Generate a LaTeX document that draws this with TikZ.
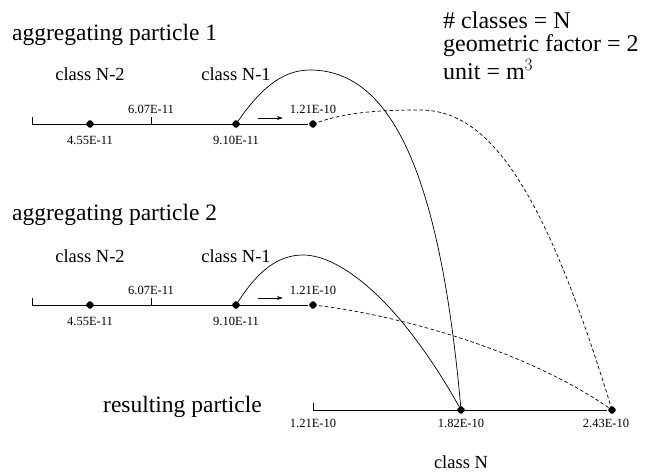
\documentclass[tikz,border=0pt]{standalone}
\usepackage{fontspec}
\setmainfont{Liberation Serif}
\usetikzlibrary{arrows.meta,shapes.geometric}
\begin{document}
\begin{tikzpicture}[x=1pt,y=-1pt,
  dot/.style={diamond,aspect=1,fill=black,inner sep=0pt,minimum size=9.5pt,rounded corners=1.5pt},
  pt/.style={inner sep=0pt,minimum size=0pt},
  small/.style={font=\fontsize{12.5}{14}\selectfont,inner sep=1pt},
  cls/.style={font=\fontsize{18.5}{21}\selectfont,inner sep=1pt},
  title/.style={font=\fontsize{23.5}{27}\selectfont,inner sep=1pt,anchor=west},
  info/.style={font=\fontsize{24}{28}\selectfont,inner sep=1pt,anchor=west},
  axis/.style={line width=0.9pt},
  curve/.style={line width=0.7pt},
  dcurve/.style={line width=0.7pt,dash pattern=on 3.5pt off 2.5pt}]
\useasboundingbox (0,0) rectangle (656,475);

% info text
\node[info] (i1) at (442,20) {\# classes = N};
\node[info] (i2) at (442,46) {geometric factor = 2};
\node[info] (i3) at (442,70) {unit = m$^3$};

% particle 1
\node[title] (t1) at (11,35) {aggregating particle 1};
\node[cls] (c1a) at (90,74) {class N-2};
\node[cls] (c1b) at (236,74) {class N-1};
\node[pt] (a0) at (32,124) {};
\node[pt] (a0t) at (32,117) {};
\node[pt] (a1) at (151,124) {};
\node[pt] (a1t) at (151,117) {};
\node[dot] (p1a) at (90,124) {};
\node[dot] (p1b) at (236,124) {};
\node[dot] (p1c) at (313,124) {};
\draw[axis] (a0) -- (p1c);
\draw[axis] (a0) -- (a0t);
\draw[axis] (a1) -- (a1t);
\node[small] at (90,140) {4.55E-11};
\node[small] at (151,109) {6.07E-11};
\node[small] at (236,140) {9.10E-11};
\node[small] at (313,109) {1.21E-10};
\node[pt] (r1s) at (258,118) {};
\node[pt] (r1e) at (283,118) {};
\draw[-{Stealth[length=6pt,width=4pt]},line width=0.8pt] (r1s) -- (r1e);

% particle 2
\node[title] (t2) at (11,215) {aggregating particle 2};
\node[cls] (c2a) at (90,256) {class N-2};
\node[cls] (c2b) at (236,256) {class N-1};
\node[pt] (b0) at (32,305) {};
\node[pt] (b0t) at (32,298) {};
\node[pt] (b1) at (151,305) {};
\node[pt] (b1t) at (151,298) {};
\node[dot] (p2a) at (90,305) {};
\node[dot] (p2b) at (236,305) {};
\node[dot] (p2c) at (313,305) {};
\draw[axis] (b0) -- (p2c);
\draw[axis] (b0) -- (b0t);
\draw[axis] (b1) -- (b1t);
\node[small] at (90,321) {4.55E-11};
\node[small] at (151,290) {6.07E-11};
\node[small] at (236,321) {9.10E-11};
\node[small] at (313,290) {1.21E-10};
\node[pt] (r2s) at (258,298) {};
\node[pt] (r2e) at (283,298) {};
\draw[-{Stealth[length=6pt,width=4pt]},line width=0.8pt] (r2s) -- (r2e);

% resulting particle
\node[font=\fontsize{23.5}{27}\selectfont,inner sep=1pt,anchor=east] (t3) at (263,407) {resulting particle};
\node[pt] (c0) at (313,410) {};
\node[pt] (c0t) at (313,403) {};
\node[dot] (q1) at (461,410) {};
\node[dot] (q2) at (612,410) {};
\draw[axis] (c0) -- (q2);
\draw[axis] (c0) -- (c0t);
\node[small] at (313,423) {1.21E-10};
\node[small] at (461,423) {1.82E-10};
\node[small] at (606,423) {2.43E-10};
\node[cls] (c3) at (461,462) {class N};

% connectors
\draw[curve] (p1b.center) .. controls (258,92) and (280,70) .. (310,70)
  .. controls (390,70) and (440,170) .. (q1.center);
\draw[dcurve] (p1c.center) .. controls (345,112) and (380,110) .. (420,110)
  .. controls (490,110) and (545,190) .. (q2.center);
\draw[curve] (p2b.center) .. controls (255,275) and (275,255) .. (303,255)
  .. controls (340,255) and (400,300) .. (q1.center);
\draw[dcurve] (p2c.center) .. controls (380,312) and (520,345) .. (q2.center);
\end{tikzpicture}
\end{document}
